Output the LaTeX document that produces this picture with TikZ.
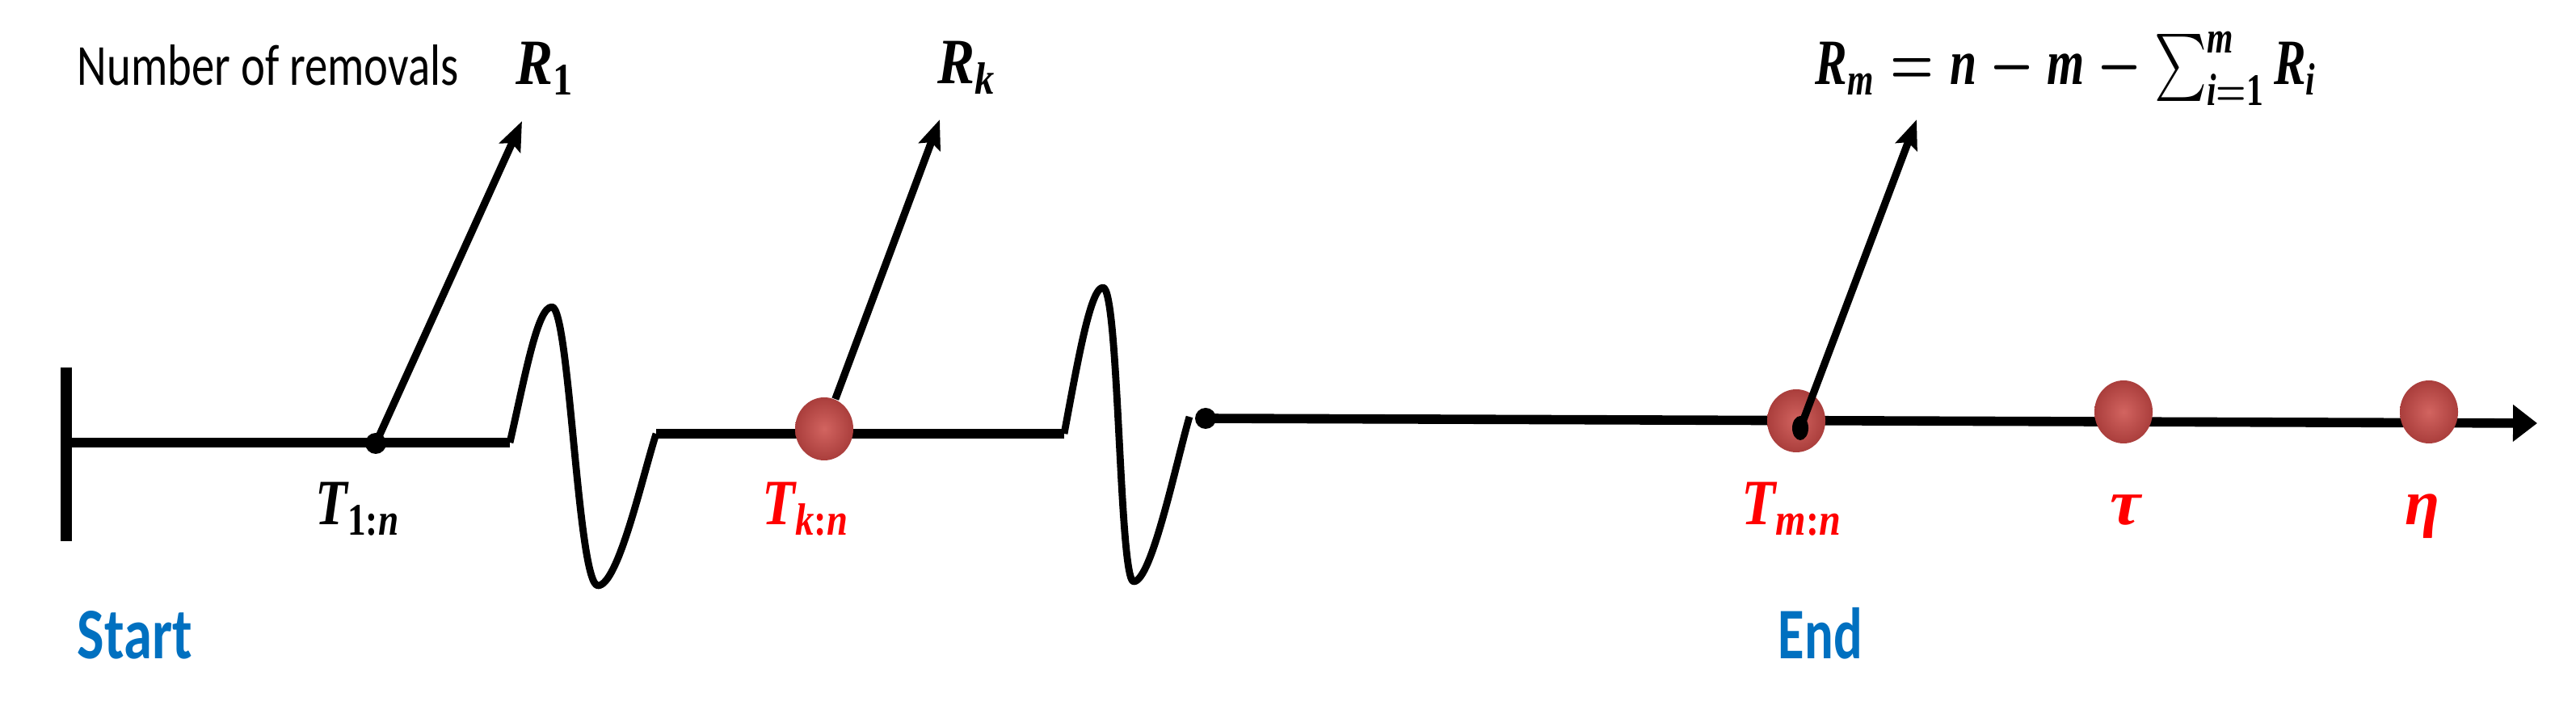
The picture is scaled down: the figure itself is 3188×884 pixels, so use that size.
\documentclass[tikz,border=0pt]{standalone}
\usepackage{amsmath,bm}
\usepackage{fontspec}
\setmainfont{Carlito}
\newfontfamily\lbf{Liberation Serif}
\newcommand{\vi}[1]{\text{\lbf\bfseries\itshape #1}}
\newcommand{\vu}[1]{\text{\lbf\bfseries #1}}
\usetikzlibrary{arrows.meta,shapes.geometric}
\definecolor{startblue}{RGB}{0,112,192}
\definecolor{balllight}{RGB}{210,100,96}
\definecolor{balldark}{RGB}{170,62,60}
\definecolor{labred}{RGB}{255,0,0}
\tikzset{
  axis/.style={line width=2.9pt, line join=round},
  wave/.style={line width=2.2pt, line join=round},
  ptr/.style={line width=2.3pt, -{Stealth[length=9pt,width=7pt,inset=1.5pt]}},
  blackdot/.style={circle, fill=black, inner sep=0pt, minimum size=6.5pt},
  blob/.style={ellipse, fill=black, inner sep=0pt, minimum width=5pt, minimum height=7.5pt},
  ballnode/.style={ellipse, inner sep=0pt, minimum width=18pt, minimum height=19.5pt,
     shading=radial, inner color=balllight, outer color=balldark},
  tlab/.style={anchor=base west, inner sep=0pt, text=labred, font=\fontsize{20}{24}\selectfont},
  rlab/.style={anchor=base west, inner sep=0pt, font=\fontsize{20}{24}\selectfont},
  bluelab/.style={anchor=base west, inner sep=0pt, text=startblue, font=\fontsize{22.5}{27}\selectfont\bfseries},
}
\begin{document}
\begin{tikzpicture}[x=0.25pt,y=-0.25pt]
\useasboundingbox (0,0) rectangle (3188,884);
% start bar
\coordinate (s0) at (82,455);
\coordinate (s1) at (82,670);
\draw[line width=3.5pt] (s0) -- (s1);
% first segment
\coordinate (a0) at (82,548);
\coordinate (t1) at (465,549);
\coordinate (a1) at (631,548);
\draw[axis] (a0) -- (a1);
% wave 1
\coordinate (w1e) at (812,537);
\draw[wave] (a1) .. controls (650,465) and (665,380) .. (683,380)
  .. controls (705,380) and (715,725) .. (740,725)
  .. controls (765,725) and (795,590) .. (w1e);
% second segment
\coordinate (a2) at (1317,537);
\draw[axis] (w1e) -- (a2);
% wave 2
\coordinate (w2e) at (1472,516);
\draw[wave] (a2) .. controls (1335,440) and (1350,356) .. (1365,356)
  .. controls (1385,356) and (1385,720) .. (1403,720)
  .. controls (1425,720) and (1455,575) .. (w2e);
% third segment with arrow
\coordinate (a3) at (1492,518);
\coordinate (aend) at (3140,524);
\draw[axis, -{Triangle[length=7.5pt,width=11pt]}] (a3) -- (aend);
% dots and balls
\node[blackdot] (d1) at (t1) {};
\node[blackdot] (d2) at (a3) {};
\node[ballnode] (bk) at (1020,531) {};
\node[ballnode] (bm) at (2223,521) {};
\node[blob] (dm) at (2228,530) {};
\node[ballnode] (btau) at (2628,510) {};
\node[ballnode] (beta) at (3006,510) {};
% pointer arrows
\coordinate (r1tip) at (646,150);
\coordinate (rktip) at (1163,148);
\coordinate (rmtip) at (2372,148);
\draw[ptr] (d1.center) -- (r1tip);
\draw[ptr] (bk) -- (rktip);
\draw[ptr] (dm.center) -- (rmtip);
% labels
\node[anchor=base west, inner sep=0pt, font=\fontsize{18}{21}\selectfont] (nr) at (95,106)
  {\resizebox{118pt}{\height}{Number of removals}};
\node[rlab] (r1) at (638,105) {\resizebox{18pt}{\height}{$\vi{R}_{\vu{1}}$}};
\node[rlab] (rk) at (1160,104) {\resizebox{18pt}{\height}{$\vi{R}_{\vi{k}}$}};
\node[rlab] (rm) at (2246,105) {\resizebox{155pt}{\height}{\boldmath$\vi{R}_{\vi{m}} = \vi{n} - \vi{m} - \sum_{\vi{i}=\vu{1}}^{\vi{m}} \vi{R}_{\vi{i}}$}};
\node[tlab, text=black] (l1) at (390,650) {\resizebox{26pt}{\height}{$\vi{T}_{\vu{1:}\vi{n}}$}};
\node[tlab] (lk) at (943,650) {\resizebox{26.75pt}{\height}{$\vi{T}_{\vi{k}\vu{:}\vi{n}}$}};
\node[tlab] (lm) at (2155,650) {\resizebox{31pt}{\height}{$\vi{T}_{\vi{m}\vu{:}\vi{n}}$}};
\node[tlab] (ltau) at (2611,650) {\resizebox{9.5pt}{\height}{$\vi{τ}$}};
\node[tlab] (leta) at (2976,650) {\resizebox{10.75pt}{\height}{$\vi{η}$}};
\node[bluelab] (start) at (95,816) {\resizebox{35.5pt}{\height}{Start}};
\node[bluelab] (end) at (2200,816) {\resizebox{26pt}{\height}{End}};
\end{tikzpicture}
\end{document}
